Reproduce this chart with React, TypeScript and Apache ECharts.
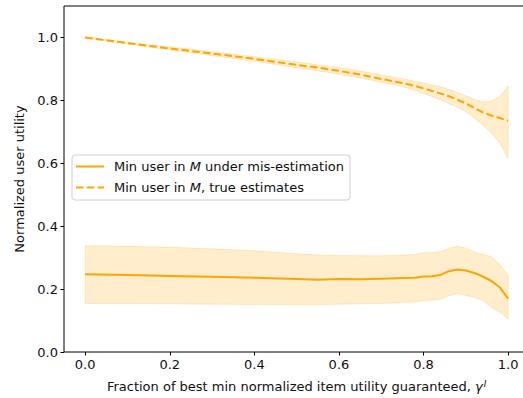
import React, { useEffect, useRef } from "react";
import * as echarts from "echarts";

// Fraction of best min normalized item utility guaranteed (gamma^I)
const gamma = [0, 0.1, 0.2, 0.3, 0.4, 0.5, 0.55, 0.6, 0.65, 0.7, 0.75, 0.78, 0.8, 0.82, 0.84, 0.86, 0.88, 0.9, 0.92, 0.94, 0.96, 0.98, 1.0];

// Min user in M under mis-estimation: mean and spread
const misMean = [0.247, 0.245, 0.242, 0.239, 0.236, 0.232, 0.230, 0.232, 0.231, 0.233, 0.235, 0.236, 0.240, 0.241, 0.245, 0.257, 0.262, 0.259, 0.251, 0.240, 0.226, 0.206, 0.170];
const misUpper = [0.338, 0.336, 0.333, 0.328, 0.322, 0.312, 0.308, 0.307, 0.306, 0.306, 0.308, 0.310, 0.315, 0.316, 0.319, 0.330, 0.336, 0.330, 0.318, 0.311, 0.303, 0.278, 0.243];
const misLower = [0.154, 0.154, 0.153, 0.152, 0.151, 0.150, 0.150, 0.152, 0.153, 0.154, 0.157, 0.160, 0.163, 0.165, 0.168, 0.179, 0.186, 0.180, 0.174, 0.164, 0.142, 0.127, 0.105];

// Min user in M with true estimates: mean and spread
const trueMean = [1.0, 0.982, 0.965, 0.949, 0.932, 0.913, 0.904, 0.894, 0.882, 0.868, 0.855, 0.846, 0.838, 0.830, 0.822, 0.813, 0.802, 0.790, 0.776, 0.762, 0.752, 0.744, 0.735];
const trueUpper = [1.002, 0.985, 0.970, 0.955, 0.939, 0.922, 0.913, 0.904, 0.893, 0.881, 0.869, 0.861, 0.855, 0.849, 0.843, 0.835, 0.825, 0.814, 0.803, 0.795, 0.797, 0.812, 0.846];
const trueLower = [0.998, 0.979, 0.960, 0.942, 0.924, 0.904, 0.894, 0.883, 0.871, 0.858, 0.844, 0.831, 0.821, 0.812, 0.802, 0.790, 0.778, 0.764, 0.745, 0.722, 0.697, 0.664, 0.616];

const xTicks = [0, 0.2, 0.4, 0.6, 0.8, 1.0];

const NAME_MIS = "Min user in M under mis-estimation";
const NAME_TRUE = "Min user in M, true estimates";

const ORANGE = "#ffa500";
const BAND = "rgba(255,165,0,0.2)";
const FONT = "DejaVu Sans";
const INK = "#111";

function pairs(ys: number[]) {
  return gamma.map((g, i) => [g, ys[i]]);
}

function bandSeries(upper: number[], lower: number[]) {
  return {
    type: "custom",
    coordinateSystem: "cartesian2d",
    silent: true,
    z: 1,
    data: [[gamma[0], upper[0]]],
    renderItem: (_params: any, api: any) => {
      const pts: number[][] = [];
      for (let i = 0; i < gamma.length; i++) pts.push(api.coord([gamma[i], upper[i]]));
      for (let i = gamma.length - 1; i >= 0; i--) pts.push(api.coord([gamma[i], lower[i]]));
      return {
        type: "polygon",
        shape: { points: pts },
        style: { fill: BAND, stroke: BAND, lineWidth: 1 },
      };
    },
  };
}

export default function App() {
  const ref = useRef<HTMLDivElement>(null);

  useEffect(() => {
    if (!ref.current) return;
    const chart = echarts.init(ref.current, undefined, { renderer: "svg" });
    const rich = {
      t: { fontFamily: FONT, fontSize: 13, color: INK },
      i: { fontFamily: FONT, fontSize: 13, color: INK, fontStyle: "italic" },
      s: { fontFamily: FONT, fontSize: 9, color: INK, fontStyle: "italic", verticalAlign: "top", padding: [0, 0, 6, 1] },
    };
    chart.setOption({
      animation: false,
      textStyle: { fontFamily: FONT, color: INK },
      grid: {
        left: 64,
        top: 6,
        width: 465.3,
        bottom: 45.5,
        show: true,
        borderColor: "#000",
        borderWidth: 1,
        backgroundColor: "transparent",
      },
      legend: {
        orient: "vertical",
        left: 72,
        top: 155,
        data: [NAME_MIS, NAME_TRUE],
        itemWidth: 28,
        itemHeight: 14,
        itemGap: 8,
        padding: [5, 6, 6, 3],
        borderColor: "#d0d0d0",
        borderWidth: 1,
        borderRadius: 3,
        backgroundColor: "rgba(255,255,255,0.8)",
        selectedMode: false,
        itemStyle: { opacity: 0 },
        textStyle: { fontFamily: FONT, fontSize: 13, color: INK, padding: [0, 0, 0, 5], rich },
        formatter: (name: string) =>
          name === NAME_MIS
            ? "{t|Min user in }{i|M}{t| under mis-estimation}"
            : "{t|Min user in }{i|M}{t|, true estimates}",
      },
      xAxis: {
        type: "value",
        min: -0.05,
        max: 1.05,
        name: "{t|Fraction of best min normalized item utility guaranteed, }{i|γ}{s|I}",
        nameLocation: "middle",
        nameGap: 27,
        nameTextStyle: { rich },
        axisLine: { show: false, onZero: false },
        splitLine: { show: false },
        axisTick: { show: true, length: 3.5, customValues: xTicks, lineStyle: { color: "#000", width: 1 } },
        axisLabel: {
          customValues: xTicks,
          margin: 6,
          fontFamily: FONT,
          fontSize: 13,
          color: INK,
          formatter: (v: number) => v.toFixed(1),
        },
      },
      yAxis: {
        type: "value",
        min: 0,
        max: 1.1,
        interval: 0.2,
        name: "Normalized user utility",
        nameLocation: "middle",
        nameGap: 36,
        nameTextStyle: { fontFamily: FONT, fontSize: 13, color: INK },
        axisLine: { show: false, onZero: false },
        splitLine: { show: false },
        axisTick: { show: true, length: 3.5, lineStyle: { color: "#000", width: 1 } },
        axisLabel: {
          margin: 6,
          fontFamily: FONT,
          fontSize: 13,
          color: INK,
          showMaxLabel: false,
          formatter: (v: number) => (v > 1.05 ? "" : v.toFixed(1)),
        },
      },
      series: [
        bandSeries(misUpper, misLower),
        bandSeries(trueUpper, trueLower),
        {
          name: NAME_MIS,
          type: "line",
          data: pairs(misMean),
          symbol: "none",
          z: 3,
          lineStyle: { color: ORANGE, width: 2, type: "solid" },
          itemStyle: { color: ORANGE },
        },
        {
          name: NAME_TRUE,
          type: "line",
          data: pairs(trueMean),
          symbol: "none",
          z: 3,
          lineStyle: { color: ORANGE, width: 2, type: [7.5, 3.3] },
          itemStyle: { color: ORANGE },
        },
      ],
    });
    return () => chart.dispose();
  }, []);

  return (
    <div style={{ position: "fixed", left: 0, top: 0, width: 523, height: 398, overflow: "hidden", background: "#fff" }}>
      <div ref={ref} style={{ width: 535, height: 398 }} />
    </div>
  );
}
